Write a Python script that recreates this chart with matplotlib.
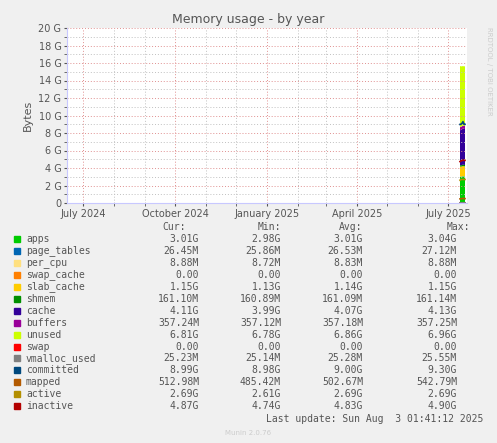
import matplotlib
matplotlib.use("Agg")
import matplotlib.pyplot as plt
import matplotlib.dates as mdates
import numpy as np
import datetime as dt

dates = ["2025-07-13", "2025-07-14", "2025-07-15", "2025-07-16", "2025-07-17", "2025-07-18"]
G = 1024**3
M = 1024**2
# stacked series (bytes)
apps = [3.00*G, 2.98*G, 3.01*G, 3.04*G, 3.01*G, 3.01*G]
page_tables = [26.5*M, 25.9*M, 26.6*M, 27.1*M, 26.5*M, 26.45*M]
per_cpu = [8.8*M, 8.72*M, 8.83*M, 8.88*M, 8.88*M, 8.88*M]
swap_cache = [0, 0, 0, 0, 0, 0]
slab_cache = [1.13*G, 1.14*G, 1.14*G, 1.15*G, 1.15*G, 1.15*G]
shmem = [160.9*M, 161.0*M, 161.1*M, 161.1*M, 161.1*M, 161.1*M]
cache = [3.99*G, 4.05*G, 4.08*G, 4.13*G, 4.11*G, 4.11*G]
buffers = [357.1*M, 357.2*M, 357.2*M, 357.25*M, 357.24*M, 357.24*M]
unused = [7.0*G, 6.9*G, 6.86*G, 6.78*G, 6.81*G, 6.81*G]
# line series
swap = [0, 0, 0, 0, 0, 0]
vmalloc_used = [25.1*M, 25.3*M, 25.3*M, 25.5*M, 25.2*M, 25.23*M]
committed = [8.98*G, 9.0*G, 9.1*G, 9.3*G, 8.99*G, 8.99*G]
mapped = [485*M, 500*M, 510*M, 543*M, 513*M, 513*M]
active = [2.61*G, 2.68*G, 2.69*G, 2.69*G, 2.69*G, 2.69*G]
inactive = [4.74*G, 4.8*G, 4.85*G, 4.9*G, 4.87*G, 4.87*G]

stack_names = ["apps", "page_tables", "per_cpu", "swap_cache", "slab_cache", "shmem", "cache", "buffers", "unused"]
stack_vals = [apps, page_tables, per_cpu, swap_cache, slab_cache, shmem, cache, buffers, unused]
stack_cols = ["#00CC00", "#0066B3", "#FFE080", "#FF8000", "#FFCC00", "#008F00", "#330099", "#990099", "#CCFF00"]
line_names = ["swap", "vmalloc_used", "committed", "mapped", "active", "inactive"]
line_vals = [swap, vmalloc_used, committed, mapped, active, inactive]
line_cols = ["#FF0000", "#808080", "#00487D", "#B35A00", "#B38F00", "#B30000"]

cur = ["3.01G", "26.45M", "8.88M", "0.00", "1.15G", "161.10M", "4.11G", "357.24M", "6.81G", "0.00", "25.23M", "8.99G", "512.98M", "2.69G", "4.87G"]
mins = ["2.98G", "25.86M", "8.72M", "0.00", "1.13G", "160.89M", "3.99G", "357.12M", "6.78G", "0.00", "25.14M", "8.98G", "485.42M", "2.61G", "4.74G"]
avgs = ["3.01G", "26.53M", "8.83M", "0.00", "1.14G", "161.09M", "4.07G", "357.18M", "6.86G", "0.00", "25.28M", "9.00G", "502.67M", "2.69G", "4.83G"]
maxs = ["3.04G", "27.12M", "8.88M", "0.00", "1.15G", "161.14M", "4.13G", "357.25M", "6.96G", "0.00", "25.55M", "9.30G", "542.79M", "2.69G", "4.90G"]

x = [dt.datetime.fromisoformat(d) for d in dates]

fig = plt.figure(figsize=(4.97, 4.43), dpi=100, facecolor="#F0F0F0")
ax = fig.add_axes([67/497, 1-203/443, 400/497, 175/443], facecolor="white")
ax.stackplot(x, *[np.array(v) for v in stack_vals], colors=stack_cols, linewidth=0)
for v, c in zip(line_vals, line_cols):
    ax.plot(x, v, color=c, lw=1.2)

ax.set_xlim(dt.datetime(2024, 6, 15), dt.datetime(2025, 7, 20))
ax.set_ylim(0, 20*G)
ax.set_yticks(np.arange(0, 21, 2)*G)
ax.set_yticklabels(["0"] + [f"{i} G" for i in range(2, 21, 2)])
ax.set_yticks(np.arange(1, 20, 2)*G, minor=True)
ax.xaxis.set_major_locator(mdates.MonthLocator(bymonth=[1, 4, 7, 10]))
ax.xaxis.set_major_formatter(mdates.DateFormatter("%B %Y"))
ax.xaxis.set_minor_locator(mdates.MonthLocator())
ax.grid(True, which="major", color="#E09090", ls=(0, (1, 2)), lw=0.7)
ax.grid(True, which="minor", color="#C0C0C0", ls=(0, (1, 2)), lw=0.7)
ax.tick_params(axis="both", which="both", length=2, colors="#555555", labelsize=7, pad=2)
for s in ["top", "right"]:
    ax.spines[s].set_visible(False)
ax.spines["left"].set_color("#C8C8FF")
ax.spines["bottom"].set_color("#C8C8FF")
ax.set_ylabel("Bytes", color="#555555", fontsize=8)
fig.text(0.5, 1-19/443, "Memory usage - by year", ha="center", va="center", fontsize=9, color="#555555")
fig.text(489/497, 0.94, "RRDTOOL / TOBI OETIKER", rotation=270, fontsize=5, color="#CCCCCC", ha="center", va="top")

mono = "DejaVu Sans Mono"
y0 = 1-227/443
step = 11.95/443
for col, xr in zip(["Cur:", "Min:", "Avg:", "Max:"], [186, 281, 362, 470]):
    fig.text(xr/497, y0, col, ha="right", va="center", fontsize=7, family=mono, color="#555555")
names = stack_names + line_names
cols = stack_cols + line_cols
for i, (n, c) in enumerate(zip(names, cols)):
    yy = y0 - (i+1)*step
    fig.patches.append(plt.Rectangle((14/497, yy-3/443), 6/497, 6/443, transform=fig.transFigure, color=c))
    fig.text(26/497, yy, n, ha="left", va="center", fontsize=7, family=mono, color="#555555")
    for vals, xr in zip([cur, mins, avgs, maxs], [199, 281, 363, 457]):
        fig.text(xr/497, yy, vals[i], ha="right", va="center", fontsize=7, family=mono, color="#555555")
fig.text(483/497, 1-419/443, "Last update: Sun Aug  3 01:41:12 2025", ha="right", va="center", fontsize=7, family=mono, color="#555555")
fig.text(0.5, 1-433/443, "Munin 2.0.76", ha="center", va="center", fontsize=5, color="#CCCCCC")
fig.savefig("out.png", dpi=100, facecolor=fig.get_facecolor())
